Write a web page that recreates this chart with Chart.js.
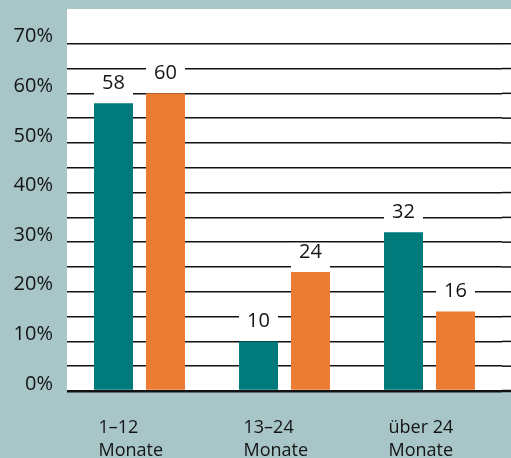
<!DOCTYPE html>
<html lang="de">
<head>
<meta charset="utf-8">
<title>Dauer in Monaten</title>
<script src="https://cdn.jsdelivr.net/npm/chart.js@4/dist/chart.umd.min.js"></script>
<style>
  html, body { margin: 0; padding: 0; background: #a8c6c8; }
  #wrap { width: 511px; height: 458px; }
</style>
</head>
<body>
<div id="wrap"><canvas id="dauerChart"></canvas></div>
<script>
// Kategorien (x-Achse) und Werte in Prozent
const kategorien = [['1–12', 'Monate'], ['13–24', 'Monate'], ['über 24', 'Monate']];
const werteTeal = [58, 10, 32];
const werteOrange = [60, 24, 16];
const yTicks = [0, 10, 20, 30, 40, 50, 60, 70];

const FARBE_HG = '#a8c6c8';
const FARBE_TEAL = '#007a7a';
const FARBE_ORANGE = '#ec7c33';
const FARBE_LINIE = '#111111';
const FARBE_TEXT = '#141414';

Chart.defaults.font.family = "'Open Sans', 'Noto Sans', sans-serif";
Chart.defaults.color = FARBE_TEXT;

// Hintergrund: graublau, Plotfläche weiß bis zum rechten Rand
const hintergrund = {
    id: 'hintergrund',
    beforeDraw(chart) {
        const { ctx, chartArea: a } = chart;
        ctx.save();
        ctx.fillStyle = FARBE_HG;
        ctx.fillRect(0, 0, chart.width, chart.height);
        ctx.fillStyle = '#ffffff';
        ctx.fillRect(a.left, a.top, chart.width - a.left, a.bottom - a.top);
        ctx.restore();
    }
};

// Gitterlinien über den rechten Rand der Plotfläche hinaus verlängern
const gitterRand = {
    id: 'gitterRand',
    beforeDatasetsDraw(chart) {
        const { ctx, chartArea: a, scales: { y } } = chart;
        ctx.save();
        ctx.strokeStyle = FARBE_LINIE;
        y.ticks.forEach(t => {
            const py = y.getPixelForValue(t.value);
            ctx.lineWidth = t.value === 0 ? 2.5 : 1.5;
            ctx.beginPath();
            ctx.moveTo(a.right, py);
            ctx.lineTo(chart.width, py);
            ctx.stroke();
        });
        ctx.restore();
    }
};

// Wertbeschriftung über jedem Balken mit weißem Feld, das die Gitterlinien unterbricht
const wertLabels = {
    id: 'wertLabels',
    afterDatasetsDraw(chart) {
        const { ctx } = chart;
        ctx.save();
        ctx.font = "20px 'Open Sans', 'Noto Sans', sans-serif";
        ctx.textAlign = 'center';
        ctx.textBaseline = 'middle';
        chart.data.datasets.forEach((ds, di) => {
            chart.getDatasetMeta(di).data.forEach((bar, i) => {
                const w = bar.width;
                ctx.fillStyle = '#ffffff';
                ctx.fillRect(bar.x - w / 2, bar.y - 29, w, 28);
                ctx.fillStyle = FARBE_TEXT;
                ctx.fillText(String(ds.data[i]), bar.x, bar.y - 20);
            });
        });
        ctx.restore();
    }
};

new Chart(document.getElementById('dauerChart'), {
    type: 'bar',
    data: {
        labels: kategorien,
        datasets: [
            { data: werteTeal, backgroundColor: FARBE_TEAL },
            { data: werteOrange, backgroundColor: FARBE_ORANGE }
        ]
    },
    options: {
        responsive: true,
        maintainAspectRatio: false,
        animation: false,
        categoryPercentage: 0.717,
        barPercentage: 0.75,
        layout: { padding: { top: 9, right: 9, left: 0, bottom: 0 } },
        plugins: {
            legend: { display: false },
            tooltip: { enabled: false }
        },
        scales: {
            x: {
                grid: { display: false, drawTicks: false },
                border: { display: false },
                ticks: {
                    align: 'start',
                    labelOffset: -41,
                    padding: 25,
                    font: { size: 18, lineHeight: 1.28 },
                    color: FARBE_TEXT
                },
                afterFit(s) {
                    s.height = 67;
                    s.paddingLeft = 0;
                    s.paddingRight = 0;
                }
            },
            y: {
                min: 0,
                max: 77,
                border: { display: false },
                grid: {
                    drawTicks: false,
                    color: FARBE_LINIE,
                    lineWidth: ctx => (ctx.tick && ctx.tick.value === 0 ? 2.5 : 1.5)
                },
                ticks: {
                    stepSize: 5,
                    padding: 14,
                    labelOffset: -7,
                    font: { size: 20 },
                    color: FARBE_TEXT,
                    callback: v => (yTicks.includes(v) ? v + '%' : '')
                },
                afterBuildTicks(s) {
                    s.ticks = s.ticks.filter(t => t.value <= 70);
                },
                afterFit(s) {
                    s.width = 67;
                    s.paddingTop = 0;
                    s.paddingBottom = 0;
                }
            }
        }
    },
    plugins: [hintergrund, gitterRand, wertLabels]
});
</script>
</body>
</html>
